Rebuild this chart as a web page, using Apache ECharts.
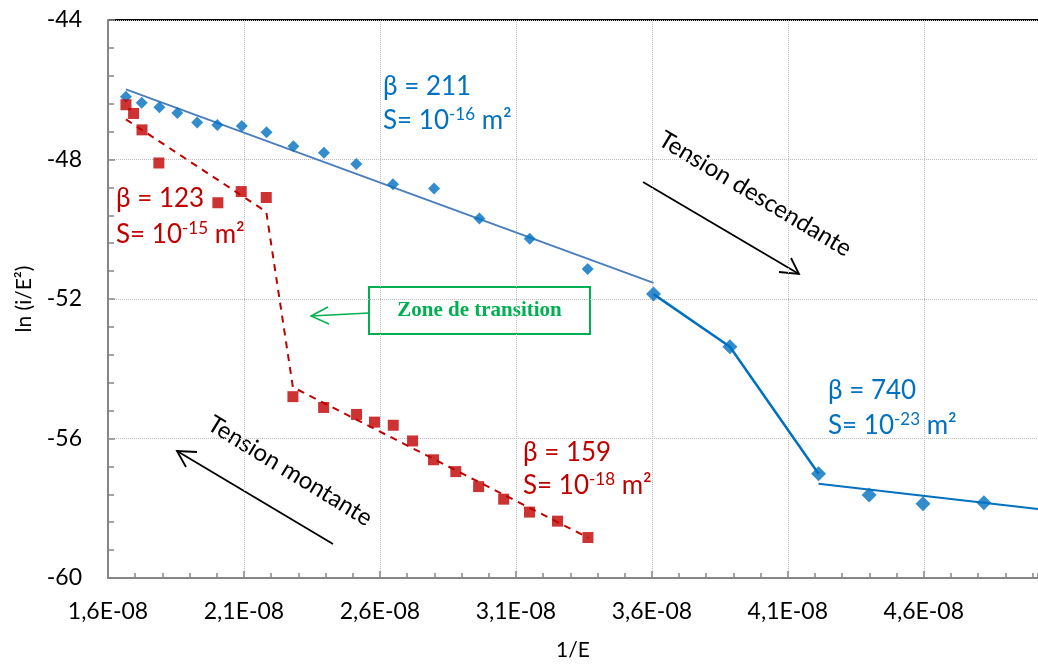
<!DOCTYPE html>
<html><head><meta charset="utf-8">
<script src="https://cdn.jsdelivr.net/npm/echarts@6/dist/echarts.min.js"></script>
<style>html,body{margin:0;padding:0;background:#fff}#c{width:1038px;height:666px}</style>
</head><body><div id="c"></div>
<script>
// Tension descendante (blue diamonds)
const blueX1 = [1.666e-8,1.724e-8,1.789e-8,1.855e-8,1.928e-8,2.002e-8,2.092e-8,2.183e-8,2.282e-8,2.394e-8,2.513e-8,2.648e-8,2.799e-8,2.966e-8,3.151e-8,3.364e-8];
const blueY1 = [-46.20,-46.37,-46.50,-46.67,-46.94,-47.01,-47.04,-47.22,-47.62,-47.81,-48.13,-48.71,-48.83,-49.69,-50.27,-51.14];
const blueX2 = [3.606e-8,3.887e-8,4.213e-8,4.399e-8,4.597e-8,4.821e-8];
const blueY2 = [-51.86,-53.37,-57.01,-57.62,-57.87,-57.84];
// Tension montante (red squares)
const redX = [1.666e-8,1.694e-8,1.725e-8,1.787e-8,2.004e-8,2.090e-8,2.182e-8,2.280e-8,2.393e-8,2.514e-8,2.580e-8,2.649e-8,2.720e-8,2.797e-8,2.879e-8,2.963e-8,3.055e-8,3.150e-8,3.253e-8,3.365e-8];
const redY = [-46.43,-46.68,-47.15,-48.10,-49.24,-48.92,-49.09,-54.80,-55.11,-55.31,-55.53,-55.62,-56.07,-56.61,-56.95,-57.38,-57.74,-58.11,-58.37,-58.84];
// Fitted lines (endpoints)
const blueFitAX = [1.666e-8,3.606e-8], blueFitAY = [-45.99,-51.54];
const blueFitBX = [3.606e-8,3.887e-8,4.213e-8], blueFitBY = [-51.86,-53.37,-57.01];
const blueFitCX = [4.213e-8,5.02e-8], blueFitCY = [-57.30,-58.02];
const redFitX = [1.666e-8,2.182e-8,2.280e-8,3.367e-8], redFitY = [-46.85,-49.50,-54.53,-58.85];
// Axes
const xMin = 1.6e-8, xMax = 5.02e-8, xStep = 0.5e-8, xMinorStep = 0.1e-8;
const yMin = -60, yMax = -44, yStep = 4;

const zip = (a,b) => a.map((v,i)=>[v,b[i]]);
const BLUE = '#0070C0', BLUE2 = '#4A7EBB', RED = '#C00000', GREEN = '#00B050';
const chart = echarts.init(document.getElementById('c'));
const F = 'Lato, "Open Sans", sans-serif';
const txt = (x,y,str,color) => ({type:'text', left:x, top:y, style:{text:str, fill:color, font:'26px '+F}});
const rich = c => ({a:{fontSize:26, fontFamily:F, fill:c, color:c}, s:{fontSize:17, fontFamily:F, fill:c, color:c, padding:[0,0,12,0]}});
const sText = (x,y,exp,c) => ({type:'text', left:x, top:y, style:{text:'{a|S= 10}{s|'+exp+'}{a| m²}', fill:c, rich:rich(c)}});
chart.setOption({
  animation:false,
  grid:{left:108, right:0, top:20, bottom:84},
  xAxis:[{type:'value', min:xMin, max:xMax, interval:xStep, name:'1/E', nameLocation:'middle', nameGap:62,
    nameTextStyle:{fontSize:21, fontFamily:F, color:'#000'},
    axisLine:{show:true, lineStyle:{color:'#868686', width:2}},
    axisTick:{show:true, inside:true, length:7, lineStyle:{color:'#868686', width:1.5}},
    axisLabel:{fontSize:23, fontFamily:F, color:'#000', margin:22, showMaxLabel:false,
      formatter:v=>(v*1e8).toFixed(1).replace('.',',')+'E-08'},
    splitLine:{show:true, lineStyle:{color:'#BFBFBF', type:'dotted', width:1}}},
   {type:'value', min:xMin, max:xMax, interval:xMinorStep, position:'bottom', show:true,
    axisLine:{show:false}, axisLabel:{show:false}, splitLine:{show:false},
    axisTick:{show:true, inside:true, length:5, lineStyle:{color:'#868686', width:1.5}}}],
  yAxis:{type:'value', min:yMin, max:yMax, interval:yStep, name:'ln (i/E²)', nameLocation:'middle', nameGap:73,
    nameTextStyle:{fontSize:21, fontFamily:F, color:'#000'},
    axisLine:{show:true, lineStyle:{color:'#868686', width:2}},
    axisTick:{show:true, inside:true, length:7, lineStyle:{color:'#868686', width:1.5}},
    minorTick:{show:true, splitNumber:5, length:6, lineStyle:{color:'#868686', width:1.5}},
    axisLabel:{fontSize:23, fontFamily:F, color:'#000', margin:26},
    splitLine:{show:true, lineStyle:{color:'#BFBFBF', type:'dotted', width:1}}},
  series:[
    {type:'line', data:zip(blueFitAX,blueFitAY), symbol:'none', lineStyle:{color:BLUE2, width:1.8}, z:2},
    {type:'line', data:zip(blueFitBX,blueFitBY), symbol:'none', lineStyle:{color:BLUE, width:2.5}, z:2},
    {type:'line', data:zip(blueFitCX,blueFitCY), symbol:'none', lineStyle:{color:BLUE, width:2}, z:2},
    {type:'line', data:zip(redFitX,redFitY), symbol:'none', lineStyle:{color:RED, width:2, type:[7,6]}, z:2},
    {type:'scatter', data:zip(blueX1,blueY1), symbol:'diamond', symbolSize:12, itemStyle:{color:BLUE}, z:3},
    {type:'scatter', data:zip(blueX2,blueY2), symbol:'diamond', symbolSize:15, itemStyle:{color:BLUE}, z:3},
    {type:'scatter', data:zip(redX,redY), symbol:'rect', symbolSize:11, itemStyle:{color:RED}, z:3}
  ],
  graphic:[
    {type:'line', shape:{x1:108,y1:20,x2:1038,y2:20}, style:{stroke:'#000', lineWidth:2}},
    txt(383,74,'β = 211',BLUE), sText(383,106,'-16',BLUE),
    txt(116,186,'β = 123',RED), sText(116,220,'-15',RED),
    txt(523,440,'β = 159',RED), sText(523,471,'-18',RED),
    txt(828,378,'β = 740',BLUE), sText(828,411,'-23',BLUE),
    // Tension descendante
    {type:'text', x:755, y:194, rotation:-31*Math.PI/180, style:{text:'Tension descendante', font:'24px '+F, fill:'#000', align:'center', verticalAlign:'middle'}},
    {type:'line', shape:{x1:643,y1:182,x2:799,y2:274}, style:{stroke:'#000', lineWidth:1.8}},
    {type:'polyline', shape:{points:[[779,272],[799,274],[791,258]]}, style:{stroke:'#000', lineWidth:1.8, fill:null}},
    // Tension montante
    {type:'text', x:290, y:471, rotation:-31.5*Math.PI/180, style:{text:'Tension montante', font:'24px '+F, fill:'#000', align:'center', verticalAlign:'middle'}},
    {type:'line', shape:{x1:333,y1:544,x2:177,y2:451}, style:{stroke:'#000', lineWidth:1.8}},
    {type:'polyline', shape:{points:[[197,452],[177,451],[186,467]]}, style:{stroke:'#000', lineWidth:1.8, fill:null}},
    // Zone de transition
    {type:'rect', shape:{x:369,y:287,width:221,height:47}, style:{fill:'#fff', stroke:GREEN, lineWidth:2}},
    {type:'text', x:479.5, y:311, style:{text:'Zone de transition', font:'bold 21px "Liberation Serif", serif', fill:GREEN, align:'center', verticalAlign:'middle'}},
    {type:'line', shape:{x1:369,y1:313,x2:311,y2:316}, style:{stroke:GREEN, lineWidth:1.5}},
    {type:'polyline', shape:{points:[[328,307],[311,316],[329,324]]}, style:{stroke:GREEN, lineWidth:1.5, fill:null}}
  ]
});
</script></body></html>
